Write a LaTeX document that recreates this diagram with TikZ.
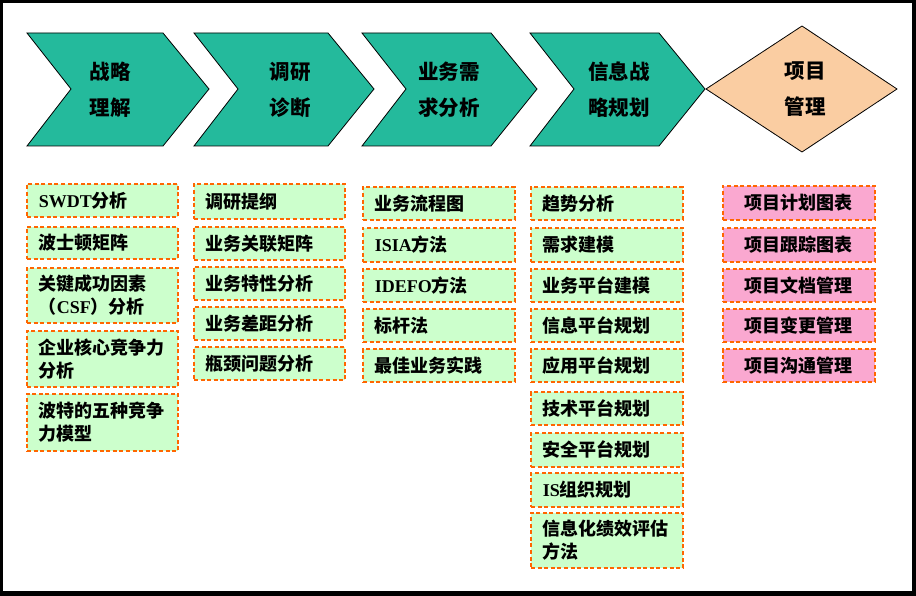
\documentclass[tikz,border=0pt]{standalone}
\usepackage{fontspec}
\setmainfont{Noto Sans CJK SC}
\newfontfamily\latfont{Liberation Serif}[UprightFont={* Bold}, BoldFont={* Bold}]
\newcommand{\lat}{\latfont}
\definecolor{chevfill}{RGB}{36,186,156}
\definecolor{diafill}{RGB}{250,205,162}
\definecolor{boxgreen}{RGB}{204,255,204}
\definecolor{boxpink}{RGB}{250,168,208}
\definecolor{dashorange}{RGB}{255,102,0}
\tikzset{
  chev/.style={draw=black, line width=0.8pt, fill=chevfill},
  dia/.style={draw=black, line width=0.8pt, fill=diafill},
  headtxt/.style={font=\bfseries\fontsize{20.5}{36}\selectfont, align=center, inner sep=0pt},
  gbox/.style={draw=dashorange, dash pattern=on 4pt off 2.6pt, line width=1.8pt, fill=boxgreen,
    anchor=north west, text width=127pt, inner xsep=12pt, inner ysep=0pt, align=left,
    font=\bfseries\fontsize{18}{23}\selectfont},
  pbox/.style={gbox, fill=boxpink, align=center}
}
\begin{document}
\begin{tikzpicture}[x=1pt,y=-1pt]
\fill[black] (0,0) rectangle (916,596);
\fill[white] (3,3) rectangle (912,591);
\useasboundingbox (0,0) rectangle (916,596);
% chevrons
\foreach \L/\R in {27/209, 194/374, 362/537, 530/705}{
  \draw[chev] (\L,33) -- (\R-46,33) -- (\R,89) -- (\R-46,146) -- (\L,146) -- (\L+44,89) -- cycle;
}
\draw[dia] (706,89) -- (802,26) -- (897,89) -- (802,152) -- cycle;
\node[headtxt] (h1) at (110,90) {战略\\理解};
\node[headtxt] (h2) at (290,90) {调研\\诊断};
\node[headtxt] (h3) at (449,90) {业务需\\求分析};
\node[headtxt] (h4) at (619,90) {信息战\\略规划};
\node[headtxt] (h5) at (805,89) {项目\\管理};
% column 1
\node[gbox, minimum height=33pt] (a1) at (26,183) {{\lat SWDT}分析};
\node[gbox, minimum height=32pt] (a2) at (26,226) {波士顿矩阵};
\node[gbox, minimum height=55pt] (a3) at (26,267) {关键成功因素\\（{\lat CSF}）分析};
\node[gbox, minimum height=56pt] (a4) at (26,330) {企业核心竞争力\\分析};
\node[gbox, minimum height=57pt] (a5) at (26,393) {波特的五种竞争\\力模型};
% column 2
\node[gbox, minimum height=35pt] (b1) at (193,183) {调研提纲};
\node[gbox, minimum height=33pt] (b2) at (193,226) {业务关联矩阵};
\node[gbox, minimum height=33pt] (b3) at (193,266) {业务特性分析};
\node[gbox, minimum height=33pt] (b4) at (193,306) {业务差距分析};
\node[gbox, minimum height=33pt] (b5) at (193,346) {瓶颈问题分析};
% column 3
\node[gbox, text width=128pt, minimum height=33pt] (c1) at (362,186) {业务流程图};
\node[gbox, text width=128pt, minimum height=34pt] (c2) at (362,227) {{\lat ISIA}方法};
\node[gbox, text width=128pt, minimum height=33pt] (c3) at (362,268) {{\lat IDEFO}方法};
\node[gbox, text width=128pt, minimum height=33pt] (c4) at (362,308) {标杆法};
\node[gbox, text width=128pt, minimum height=33pt] (c5) at (362,348) {最佳业务实践};
% column 4
\node[gbox, text width=128pt, minimum height=33pt] (d1) at (530,186) {趋势分析};
\node[gbox, text width=128pt, minimum height=34pt] (d2) at (530,227) {需求建模};
\node[gbox, text width=128pt, minimum height=33pt] (d3) at (530,268) {业务平台建模};
\node[gbox, text width=128pt, minimum height=33pt] (d4) at (530,308) {信息平台规划};
\node[gbox, text width=128pt, minimum height=33pt] (d5) at (530,348) {应用平台规划};
\node[gbox, text width=128pt, minimum height=33pt] (d6) at (530,391) {技术平台规划};
\node[gbox, text width=128pt, minimum height=34pt] (d7) at (530,432) {安全平台规划};
\node[gbox, text width=128pt, minimum height=34pt] (d8) at (530,472) {{\lat IS}组织规划};
\node[gbox, text width=128pt, minimum height=55pt] (d9) at (530,512) {信息化绩效评估\\方法};
% column 5
\node[pbox, text width=128pt, minimum height=34pt] (e1) at (722,185) {项目计划图表};
\node[pbox, text width=128pt, minimum height=34pt] (e2) at (722,227) {项目跟踪图表};
\node[pbox, text width=128pt, minimum height=33pt] (e3) at (722,268) {项目文档管理};
\node[pbox, text width=128pt, minimum height=33pt] (e4) at (722,308) {项目变更管理};
\node[pbox, text width=128pt, minimum height=33pt] (e5) at (722,348) {项目沟通管理};
\end{tikzpicture}
\end{document}
